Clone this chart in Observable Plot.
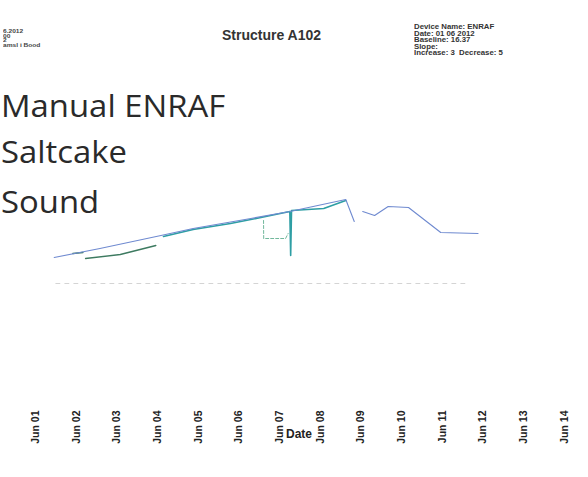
<!DOCTYPE html>
<html><head><meta charset="utf-8">
<script src="https://cdn.jsdelivr.net/npm/d3@7"></script>
<script src="https://cdn.jsdelivr.net/npm/@observablehq/plot@0.6"></script>
<style>
body{margin:0;background:#fff;}
#wrap{position:relative;width:588px;height:477px;overflow:hidden;background:#fff;font-family:"Liberation Sans",Arial,sans-serif;}
#chart{position:absolute;left:0;top:0;}
.ov{position:absolute;white-space:nowrap;transform-origin:0 0;color:#222;}
.big{font-family:"Open Sans",sans-serif;font-size:31px;line-height:31px;transform:scaleX(1.06);color:#2a2a2a;}
.sm{font-weight:bold;font-size:6.5px;line-height:6.5px;color:#333;transform:scaleX(1.2);}
.tiny{font-weight:bold;font-size:5.5px;line-height:4.6px;color:#444;transform:scaleX(1.2);}
</style></head>
<body><div id="wrap">
<div id="chart"></div>
<div class="ov tiny" style="left:3px;top:29px;">6.2012<br>00<br>2<br>amsl i Bood</div>
<div class="ov" style="left:222px;top:28px;font-weight:bold;font-size:14px;line-height:14px;color:#333;">Structure A102</div>
<div class="ov sm" style="left:414px;top:24px;">Device Name: ENRAF<br>Date: 01 06 2012<br>Baseline: 16.37<br>Slope:<br>Increase: 3&nbsp; Decrease: 5</div>
<div class="ov big" style="left:1px;top:89.5px;">Manual ENRAF</div>
<div class="ov big" style="left:1px;top:135.5px;">Saltcake</div>
<div class="ov big" style="left:1px;top:185.5px;">Sound</div>
<div class="ov" style="left:286px;top:428px;font-weight:bold;font-size:12px;line-height:12px;color:#222;">Date</div>
</div>
<script>
const parse = d3.utcParse("%Y-%m-%d %H:%M");

// Manual (blue) readings
const manualTimes = ["2012-06-01 11:00","2012-06-02 14:00","2012-06-04 02:00","2012-06-04 21:00","2012-06-06 07:00","2012-06-07 06:00","2012-06-08 15:00","2012-06-08 20:00","2012-06-08 22:00","2012-06-09 01:00","2012-06-09 08:00","2012-06-09 16:00","2012-06-10 04:00","2012-06-10 23:00","2012-06-11 21:00"];
const manualLevels = [73.5,78,84.5,88,93,96.5,102.5,91.5,null,96.5,94.5,99,98.5,86,85.5];

// ENRAF (teal) readings
const enrafTimes = ["2012-06-04 03:30","2012-06-04 21:00","2012-06-05 19:00","2012-06-06 13:00","2012-06-07 06:00","2012-06-07 06:30","2012-06-07 07:00","2012-06-08 02:00","2012-06-08 15:00"];
const enrafLevels = [84,87.5,90.5,93.5,96.5,74.5,97,98,102];

// Saltcake (dark green) readings
const saltTimes = ["2012-06-01 22:00","2012-06-02 04:00","2012-06-02 05:00","2012-06-02 05:30","2012-06-03 02:00","2012-06-03 23:00"];
const saltLevels = [75.5,76,null,73,75,79.5];

// Sound (light green) readings
const soundTimes = ["2012-06-06 14:30","2012-06-06 14:35","2012-06-07 03:30","2012-06-07 05:00"];
const soundLevels = [92,83,83,85.5];

// Faint reference line
const refTimes = ["2012-06-01 12:00","2012-06-11 16:00"];
const refLevels = [60.5,60.5];

const tickDates = ["2012-06-01","2012-06-02","2012-06-03","2012-06-04","2012-06-05","2012-06-06","2012-06-07","2012-06-08","2012-06-09","2012-06-10","2012-06-11","2012-06-12","2012-06-13","2012-06-14"];

const mk = (t, v) => t.map((d, i) => ({date: parse(d), level: v[i]}));
const manual = mk(manualTimes, manualLevels);
const enraf = mk(enrafTimes, enrafLevels);
const salt = mk(saltTimes, saltLevels);
const sound = mk(soundTimes, soundLevels);
const ref = mk(refTimes, refLevels);
const ticks = tickDates.map(d => d3.utcParse("%Y-%m-%d")(d));

const chart = Plot.plot({
  width: 588, height: 477,
  marginLeft: 35, marginRight: 24, marginTop: 64, marginBottom: 73,
  style: {fontFamily: "Liberation Sans, Arial, sans-serif", fontSize: "10.5px", fontWeight: "bold", color: "#222", background: "transparent"},
  x: {type: "utc", domain: [ticks[0], ticks[ticks.length - 1]], ticks: ticks, tickFormat: d3.utcFormat("%b %d"),
      tickRotate: -90, tickSize: 0, tickPadding: 6, label: null},
  y: {domain: [0, 170], axis: null},
  marks: [
    Plot.line(ref, {x: "date", y: "level", stroke: "#d4d4d4", strokeWidth: 1, strokeDasharray: "4,5"}),
    Plot.line(sound, {x: "date", y: "level", stroke: "#72b89c", strokeWidth: 1, strokeDasharray: "3,2"}),
    Plot.line(salt, {x: "date", y: "level", stroke: "#3d7a60", strokeWidth: 1.3}),
    Plot.line(enraf, {x: "date", y: "level", stroke: "#2e9ea4", strokeWidth: 1.6}),
    Plot.line(manual, {x: "date", y: "level", stroke: "#6f8ad0", strokeWidth: 1.1})
  ]
});
document.getElementById("chart").appendChild(chart);
</script>
</body></html>
